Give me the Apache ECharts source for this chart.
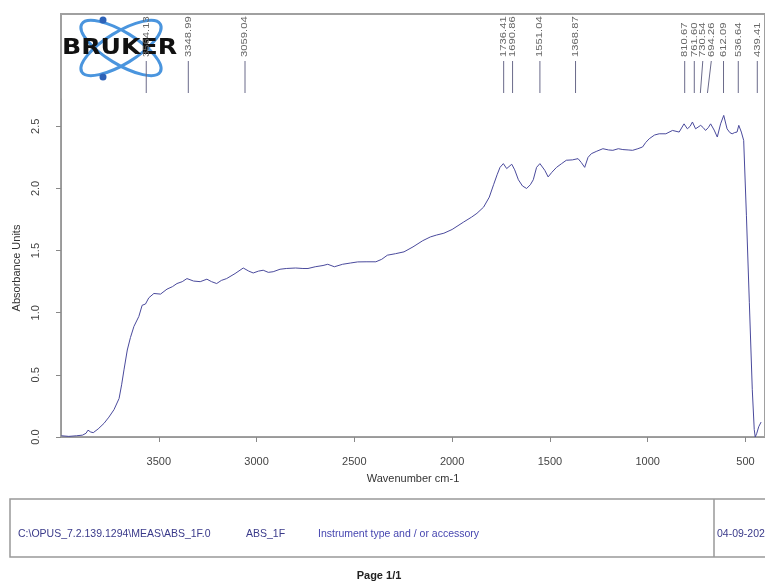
<!DOCTYPE html>
<html>
<head>
<meta charset="utf-8">
<script src="https://cdn.jsdelivr.net/npm/echarts@6/dist/echarts.min.js"></script>
<style>
html, body { margin: 0; padding: 0; background: #fff; overflow: hidden; }
#main { width: 765px; height: 587px; }
</style>
</head>
<body>
<div id="main"></div>
<script>
// spectrum: wavenumber (cm-1) and absorbance
let wavenumbers = [3998, 3960, 3920, 3890, 3872, 3862, 3848, 3835, 3810, 3780, 3755, 3729, 3703, 3690, 3678, 3661, 3645, 3627, 3602, 3585,
    3568, 3551, 3525, 3491, 3458, 3430, 3407, 3380, 3356, 3322, 3288, 3254, 3230, 3204, 3180, 3153, 3110, 3068, 3040, 3017,
    2990, 2966, 2940, 2915, 2880, 2848, 2800, 2763, 2737, 2700, 2660, 2636, 2602, 2560, 2520, 2483, 2440, 2390, 2382, 2360,
    2331, 2290, 2246, 2200, 2150, 2111, 2080, 2042, 2000, 1941, 1900, 1873, 1839, 1810, 1788, 1770, 1755, 1738, 1721, 1695,
    1680, 1661, 1640, 1619, 1600, 1585, 1568, 1551, 1526, 1509, 1490, 1466, 1440, 1416, 1385, 1356, 1340, 1322, 1305, 1288,
    1260, 1229, 1200, 1178, 1150, 1127, 1100, 1077, 1050, 1026, 1010, 992, 965, 941, 907, 873, 839, 814, 797, 783,
    771, 755, 729, 716, 704, 690, 678, 660, 644, 627, 611, 594, 580, 568, 555, 543, 534, 521, 509, 495,
    480, 465, 455, 450, 442, 432, 420];
let absorbance = [0.01, 0.005, 0.01, 0.015, 0.03, 0.055, 0.04, 0.035, 0.065, 0.11, 0.16, 0.22, 0.31, 0.42, 0.54, 0.70, 0.80, 0.89, 0.97, 1.06,
    1.07, 1.12, 1.155, 1.15, 1.19, 1.21, 1.235, 1.25, 1.275, 1.255, 1.25, 1.27, 1.25, 1.235, 1.26, 1.275, 1.315, 1.36, 1.335, 1.32,
    1.335, 1.342, 1.325, 1.33, 1.35, 1.356, 1.36, 1.356, 1.356, 1.37, 1.38, 1.39, 1.37, 1.39, 1.40, 1.409, 1.41, 1.41, 1.396, 1.43,
    1.463, 1.475, 1.49, 1.53, 1.58, 1.61, 1.625, 1.64, 1.67, 1.73, 1.77, 1.80, 1.85, 1.93, 2.03, 2.11, 2.17, 2.20, 2.16, 2.195,
    2.15, 2.07, 2.02, 2.00, 2.03, 2.07, 2.17, 2.20, 2.146, 2.093, 2.13, 2.17, 2.20, 2.227, 2.23, 2.24, 2.21, 2.17, 2.25, 2.28,
    2.30, 2.32, 2.31, 2.307, 2.32, 2.313, 2.31, 2.307, 2.32, 2.334, 2.37, 2.40, 2.43, 2.44, 2.44, 2.467, 2.454, 2.52, 2.48, 2.50,
    2.535, 2.48, 2.508, 2.49, 2.467, 2.49, 2.52, 2.47, 2.414, 2.52, 2.588, 2.48, 2.45, 2.44, 2.45, 2.454, 2.508, 2.454, 2.387, 1.78,
    1.08, 0.38, 0.06, 0.0, 0.03, 0.083, 0.12];

// peak picking marks at the top of the frame
let peakPositions = [3564.13, 3348.99, 3059.04, 1736.41, 1690.86, 1551.04, 1368.87, 810.67, 761.60, 730.54, 694.26, 612.09, 536.64, 439.41];
let peakLabels = ['3564.13', '3348.99', '3059.04', '1736.41', '1690.86', '1551.04', '1368.87', '810.67', '761.60', '730.54', '694.26', '612.09', '536.64', '439.41'];

let xTicks = [3500, 3000, 2500, 2000, 1500, 1000, 500];
let yTicks = [0, 0.5, 1, 1.5, 2, 2.5];

let myChart = echarts.init(document.getElementById('main'));

let spectrum = wavenumbers.map(function(w, i) {
    return [w, absorbance[i]];
});

let renderPeak = function(params, api) {
    let i = params.dataIndex;
    let top = params.coordSys.y;
    let xs = peakPositions.map(function(p) {
        return api.coord([p, 0])[0];
    });
    // push crowded labels to the right
    let lx = [];
    xs.forEach(function(x, k) {
        lx.push(k === 0 ? x : Math.max(x, lx[k - 1] + 8.5));
    });
    return {
        type: 'group',
        children: [
            {
                type: 'line',
                shape: { x1: lx[i], y1: top + 47, x2: xs[i], y2: top + 79 },
                style: { stroke: '#6a6a8a', lineWidth: 1 }
            },
            {
                type: 'text',
                x: lx[i],
                y: top + 43,
                rotation: Math.PI / 2,
                scaleX: 1.25,
                style: {
                    text: peakLabels[i],
                    fill: '#666',
                    font: '9px "Liberation Sans"',
                    align: 'left',
                    verticalAlign: 'middle'
                }
            }
        ]
    };
};

let options = {
    animation: false,
    textStyle: { fontFamily: '"Liberation Sans", Arial, sans-serif' },
    grid: [
        { left: 61, right: -4, top: 99, bottom: 150 },
        { left: 61, right: -4, top: 14, bottom: 150, show: true, borderColor: '#a0a0a0', borderWidth: 2, backgroundColor: 'transparent' }
    ],
    xAxis: [
        {
            type: 'value',
            gridIndex: 0,
            min: 400,
            max: 4000,
            inverse: true,
            name: 'Wavenumber cm-1',
            nameLocation: 'middle',
            nameGap: 36,
            nameTextStyle: { fontSize: 11, color: '#333' },
            axisLine: { lineStyle: { color: '#999', width: 1 } },
            axisTick: { customValues: xTicks, length: 5, lineStyle: { color: '#888' } },
            axisLabel: {
                customValues: xTicks,
                fontSize: 11,
                color: '#444',
                margin: 19,
                formatter: function(v) { return String(v); }
            },
            splitLine: { show: false }
        },
        {
            type: 'value',
            gridIndex: 1,
            min: 400,
            max: 4000,
            inverse: true,
            show: false
        }
    ],
    yAxis: [
        {
            type: 'value',
            gridIndex: 0,
            min: 0,
            max: 2.72,
            name: 'Absorbance Units',
            nameLocation: 'middle',
            nameGap: 30,
            nameTextStyle: { fontSize: 11, color: '#333' },
            axisLine: { show: true, lineStyle: { color: '#999', width: 1 } },
            axisTick: { show: true, customValues: yTicks, length: 5, lineStyle: { color: '#888' } },
            axisLabel: {
                customValues: yTicks,
                rotate: 90,
                fontSize: 11,
                color: '#444',
                margin: 20,
                formatter: function(v) { return v.toFixed(1); }
            },
            splitLine: { show: false }
        },
        {
            type: 'value',
            gridIndex: 1,
            min: 0,
            max: 1,
            show: false
        }
    ],
    series: [
        {
            name: 'ABS_1F',
            type: 'line',
            xAxisIndex: 0,
            yAxisIndex: 0,
            data: spectrum,
            showSymbol: false,
            lineStyle: { color: '#4a4a9c', width: 1 },
            z: 3
        },
        {
            name: 'peaks',
            type: 'custom',
            xAxisIndex: 1,
            yAxisIndex: 1,
            data: peakPositions.map(function(p) { return [p, 0.5]; }),
            renderItem: renderPeak,
            z: 2
        }
    ],
    graphic: [
        // Bruker logo
        {
            type: 'group',
            z: 100,
            children: [
                {
                    type: 'ellipse', x: 121, y: 48, rotation: 0.55,
                    shape: { cx: 0, cy: 0, rx: 46, ry: 16 },
                    style: { stroke: '#4a95de', lineWidth: 3, fill: 'none' }
                },
                {
                    type: 'ellipse', x: 121, y: 48, rotation: -0.55,
                    shape: { cx: 0, cy: 0, rx: 46, ry: 16 },
                    style: { stroke: '#4a95de', lineWidth: 3, fill: 'none' }
                },
                { type: 'circle', shape: { cx: 103, cy: 20, r: 3.5 }, style: { fill: '#2d62b8' } },
                { type: 'circle', shape: { cx: 103, cy: 77, r: 3.5 }, style: { fill: '#2d62b8' } },
                {
                    type: 'text', x: 62, y: 49, scaleX: 1.2,
                    style: { text: 'BRUKER', font: 'bold 21px "DejaVu Sans"', fill: '#111', verticalAlign: 'middle' }
                }
            ]
        },
        // info box under the plot
        {
            type: 'rect',
            shape: { x: 10, y: 499, width: 800, height: 58 },
            style: { stroke: '#999', lineWidth: 1.5, fill: 'none' }
        },
        {
            type: 'line',
            shape: { x1: 714, y1: 499, x2: 714, y2: 557 },
            style: { stroke: '#999', lineWidth: 1.5 }
        },
        {
            type: 'text', x: 18, y: 534,
            style: { text: 'C:\\OPUS_7.2.139.1294\\MEAS\\ABS_1F.0', font: '10.5px "Liberation Sans"', fill: '#3a3a8a', verticalAlign: 'middle' }
        },
        {
            type: 'text', x: 246, y: 534,
            style: { text: 'ABS_1F', font: '10.5px "Liberation Sans"', fill: '#3a3a8a', verticalAlign: 'middle' }
        },
        {
            type: 'text', x: 318, y: 534,
            style: { text: 'Instrument type and / or accessory', font: '10.5px "Liberation Sans"', fill: '#4646b0', verticalAlign: 'middle' }
        },
        {
            type: 'text', x: 717, y: 534,
            style: { text: '04-09-2021', font: '10.5px "Liberation Sans"', fill: '#3a3a8a', verticalAlign: 'middle' }
        },
        {
            type: 'text', x: 379, y: 576,
            style: { text: 'Page 1/1', font: 'bold 11px "Liberation Sans"', fill: '#222', align: 'center', verticalAlign: 'middle' }
        }
    ]
};

myChart.setOption(options);
</script>
</body>
</html>
